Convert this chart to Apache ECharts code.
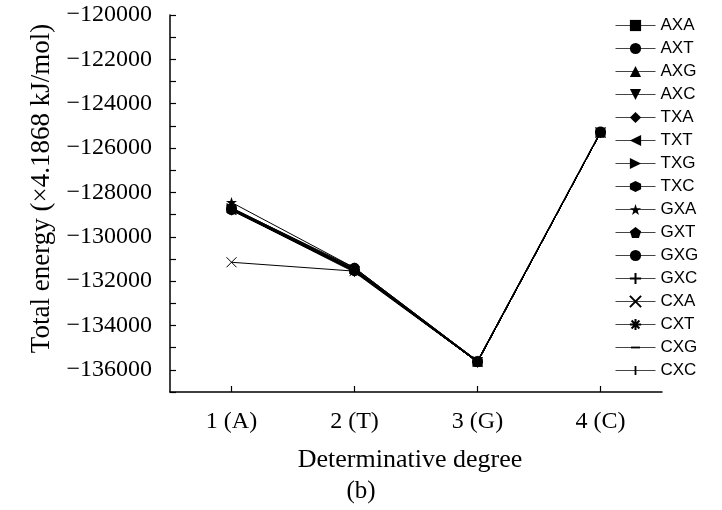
<!DOCTYPE html>
<html>
<head>
<meta charset="utf-8">
<script src="https://cdn.jsdelivr.net/npm/echarts@6/dist/echarts.min.js"></script>
<style>
  html, body { margin: 0; padding: 0; background: #fff; }
  #chart { width: 722px; height: 510px; }
</style>
</head>
<body>
<div id="chart"></div>
<script>
// categories on the x axis
var degrees = ['1 (A)', '2 (T)', '3 (G)', '4 (C)']
var seriesNames = ['AXA', 'AXT', 'AXG', 'AXC', 'TXA', 'TXT', 'TXG', 'TXC',
  'GXA', 'GXT', 'GXG', 'GXC', 'CXA', 'CXT', 'CXG', 'CXC']
// total energy of each series at each degree (same order as seriesNames)
var energyA = [-128750, -128800, -128700, -128800, -128750, -128800, -128700, -128750,
  -128450, -128750, -128700, -128800, -131150, -128750, -128800, -128750]
var energyT = [-131500, -131550, -131450, -131600, -131500, -131550, -131450, -131550,
  -131400, -131500, -131400, -131550, -131550, -131500, -131550, -131500]
var energyG = [-135650, -135650, -135600, -135650, -135650, -135650, -135600, -135650,
  -135600, -135650, -135600, -135650, -135650, -135650, -135650, -135650]
var energyC = [-125300, -125300, -125300, -125300, -125300, -125300, -125300, -125300,
  -125300, -125300, -125250, -125300, -125300, -125300, -125300, -125300]

// marker shapes, one per series
// (the dash and bar paths carry empty corner points so their box stays square)
var markers = [
  {symbol: 'rect', size: 9},
  {symbol: 'circle', size: 10},
  {symbol: 'triangle', size: 10},
  {symbol: 'path://M0,0L10,0L5,10Z', size: 10},
  {symbol: 'diamond', size: 11},
  {symbol: 'path://M10,0L10,10L0,5Z', size: 10},
  {symbol: 'path://M0,0L0,10L10,5Z', size: 10},
  {symbol: 'path://M5,0L9.33,2.5L9.33,7.5L5,10L0.67,7.5L0.67,2.5Z', size: 10},
  {symbol: 'path://M5,0L6.2,3.6L10,3.6L6.9,5.8L8.1,9.5L5,7.2L1.9,9.5L3.1,5.8L0,3.6L3.8,3.6Z', size: 11},
  {symbol: 'path://M5,0L10,3.8L8.1,10L1.9,10L0,3.8Z', size: 10},
  {symbol: 'circle', size: 10},
  {symbol: 'path://M5,0L5,10M0,5L10,5', size: 10, stroke: true},
  {symbol: 'path://M0,0L10,10M10,0L0,10', size: 10, stroke: true},
  {symbol: 'path://M5,0L5,10M0,5L10,5M1.5,1.5L8.5,8.5M8.5,1.5L1.5,8.5', size: 11, stroke: true},
  {symbol: 'path://M0,0L0,0M1,4.2L9,4.2L9,5.8L1,5.8ZM10,10L10,10', size: 10},
  {symbol: 'path://M0,0L0,0M4.2,1L5.8,1L5.8,9L4.2,9ZM10,10L10,10', size: 10}
]

var series = []
for (var i = 0; i < seriesNames.length; i++) {
  var m = markers[i]
  series.push({
    name: seriesNames[i],
    type: 'line',
    data: [energyA[i], energyT[i], energyG[i], energyC[i]],
    symbol: m.symbol,
    symbolSize: m.size,
    showAllSymbol: true,
    lineStyle: { color: '#000', width: 1 },
    itemStyle: m.stroke
      ? { color: '#000', borderColor: '#000', borderWidth: 1 }
      : { color: '#000', borderWidth: 0 },
    emphasis: { disabled: true }
  })
}

var myChart = echarts.init(document.getElementById('chart'))
myChart.setOption({
  animation: false,
  backgroundColor: '#fff',
  title: {
    text: '(b)',
    left: 'center',
    top: 474,
    textStyle: { fontFamily: 'Liberation Serif', fontSize: 25, fontWeight: 'normal', color: '#000' }
  },
  legend: {
    orient: 'vertical',
    left: 610,
    top: 12,
    itemWidth: 40,
    itemHeight: 14,
    itemGap: 6,
    lineStyle: { color: '#444', width: 1 },
    textStyle: { fontFamily: 'Liberation Sans', fontSize: 17, color: '#000', padding: [0, 0, 0, 0] },
    data: seriesNames
  },
  grid: {
    left: 170,
    right: 60,
    top: 15,
    bottom: 118
  },
  xAxis: {
    type: 'category',
    data: degrees,
    boundaryGap: true,
    name: 'Determinative degree',
    nameLocation: 'middle',
    nameGap: 55,
    nameTextStyle: { fontFamily: 'Liberation Serif', fontSize: 26, color: '#000', padding: [0, 12, 0, 0] },
    axisLine: { lineStyle: { color: '#000', width: 1.5 } },
    axisTick: { show: true, inside: true, length: 6, alignWithLabel: true, lineStyle: { color: '#000', width: 1.2 } },
    axisLabel: { fontFamily: 'Liberation Serif', fontSize: 24, color: '#000', margin: 18 },
    splitLine: { show: false }
  },
  yAxis: {
    type: 'value',
    min: -137000,
    max: -120000,
    interval: 1000,
    name: 'Total energy (×4.1868 kJ/mol)',
    nameLocation: 'middle',
    nameGap: 115,
    nameTextStyle: { fontFamily: 'Liberation Serif', fontSize: 27, color: '#000', padding: [0, 0, 0, 30] },
    axisLine: { show: true, lineStyle: { color: '#000', width: 1.5 } },
    axisTick: { show: true, inside: true, length: 6, lineStyle: { color: '#000', width: 1.2 } },
    axisLabel: {
      fontFamily: 'Liberation Serif',
      fontSize: 24,
      color: '#000',
      margin: 18,
      formatter: function (v) {
        if (v % 2000 !== 0) return ''
        return '\u2212' + Math.abs(v)
      }
    },
    splitLine: { show: false }
  },
  series: series
})
</script>
</body>
</html>
